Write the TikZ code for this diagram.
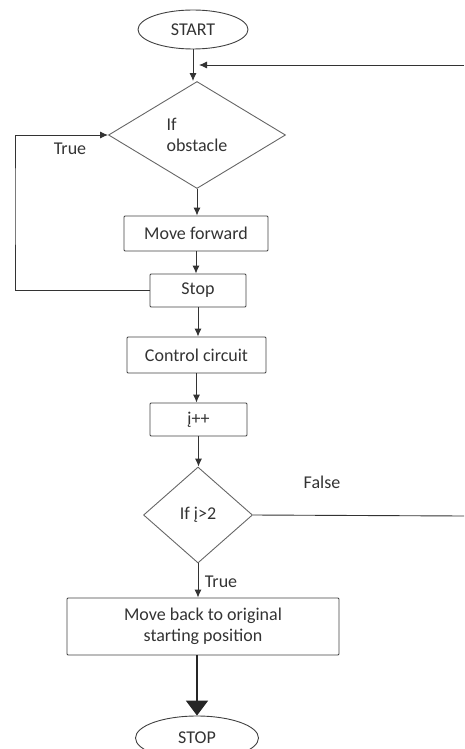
\documentclass[tikz,border=0pt]{standalone}
\usepackage{fontspec}
\setmainfont{Carlito}
\usetikzlibrary{shapes.geometric,arrows.meta}

\begin{document}
\begin{tikzpicture}
  [x=1pt,y=-1pt,line width=0.9pt,
   every node/.style={font=\fontsize{18}{21}\selectfont,text=black!80,inner sep=0pt},
   term/.style={ellipse,draw=black!75},
   box/.style={rectangle,draw=black!75,rounded corners=1pt},
   test/.style={diamond,draw=black!60},
   arr/.style={draw=black!80,-{Latex[length=8pt,width=7pt]}}]
  \useasboundingbox (0,0) rectangle (464,749);
  \clip (0,0) rectangle (464,749);

  \node[term,minimum width=110,minimum height=39] (start) at (193,29.5) {START};
  \node[test,minimum width=177,minimum height=107,align=left] (obs) at (197,135) {If\\obstacle};
  \node[box,minimum width=144,minimum height=35] (fwd) at (196,233.5) {Move forward};
  \node[box,minimum width=96,minimum height=33] (stop) at (198,290.5) {Stop};
  \node[box,minimum width=139,minimum height=36] (ctrl) at (196.5,355) {Control circuit};
  \node[box,minimum width=97,minimum height=33] (inc) at (198.5,419.5) {į++};
  \node[test,minimum width=109,minimum height=96] (cnt) at (198,515) {If į>2};
  \node[box,minimum width=272,minimum height=57,align=center] (back) at (203,626.5) {Move back to original\\starting position};
  \node[term,minimum width=123,minimum height=44] (end) at (197,738) {STOP};

  \node (t1) at (70,149) {True};
  \node (t2) at (221,582) {True};
  \node (f1) at (322,482) {False};

  \coordinate (jn) at (199,65);
  \coordinate (rt) at (464,65);
  \coordinate (fr) at (464,516);
  \coordinate (lp) at (15,200);

  \foreach \from/\to in {start/obs,obs/fwd,fwd/stop,stop/ctrl,ctrl/inc,inc/cnt}
    \draw[arr] (\from) -- (\from |- \to.north);
  \draw[arr] (cnt) -- (cnt |- back.north);

  \draw[arr] (stop.west) -| (lp) |- (obs.west);
  \draw[draw=black!80] (cnt.east) -- (fr);
  \draw[arr] (rt) -- (jn);
  \draw[draw=black!85,line width=1.8pt,-{Triangle[length=15pt,width=22pt]}] (back.south -| end) -- (end.north);

\end{tikzpicture}
\end{document}
